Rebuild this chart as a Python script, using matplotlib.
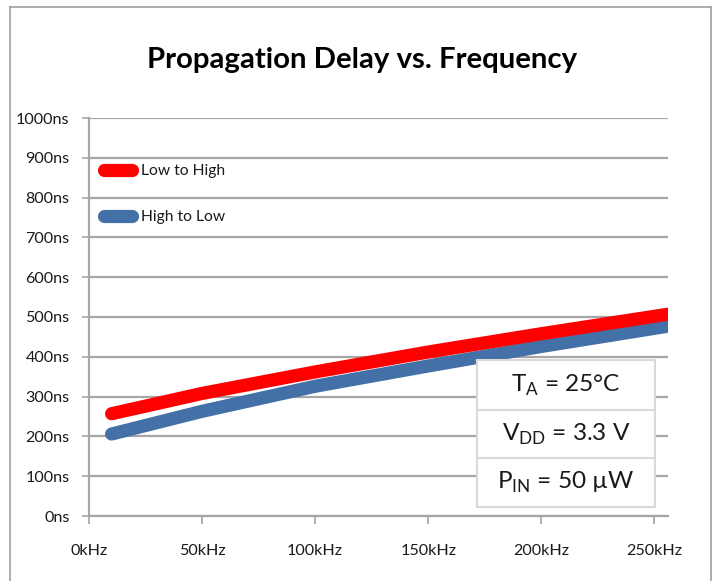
import matplotlib
matplotlib.use("Agg")
import matplotlib.pyplot as plt
from matplotlib.lines import Line2D
from matplotlib.patches import Rectangle

# ---- data ----
freq_khz = [10, 50, 100, 150, 200, 256]
low_to_high = [257, 308, 362, 412, 458, 507]
high_to_low = [206, 263, 326, 377, 426, 477]
series_names = ["Low to High", "High to Low"]
x_ticks = [0, 50, 100, 150, 200, 250]
x_tick_labels = ["0kHz", "50kHz", "100kHz", "150kHz", "200kHz", "250kHz"]
y_ticks = list(range(0, 1001, 100))
y_tick_labels = [f"{v}ns" for v in y_ticks]
title = "Propagation Delay vs. Frequency"
box_rows = [r"T$_\mathregular{A}$ = 25°C", r"V$_\mathregular{DD}$ = 3.3 V", r"P$_\mathregular{IN}$ = 50 µW"]

FONT = "Lato"
plt.rcParams['font.family'] = [FONT, 'DejaVu Sans']
plt.rcParams['mathtext.fontset'] = 'custom'
plt.rcParams['mathtext.rm'] = FONT

W, H = 715, 581
fig = plt.figure(figsize=(W / 100, H / 100), dpi=100)
renderer = fig.canvas.get_renderer()


def fit_size(text, target_px, weight="normal", base=12.0):
    t = fig.text(0, 0, text, fontsize=base, fontweight=weight)
    w = t.get_window_extent(renderer=renderer).width
    t.remove()
    return base * target_px / w


ax = fig.add_axes([89 / W, 1 - 516 / H, (668 - 89) / W, (516 - 118) / H])

grid_c = "#a6a6a6"
tick_fs = fit_size("1000ns", 53)
ax.set_xlim(0, 256)
ax.set_ylim(0, 1000)
ax.set_yticks(y_ticks)
ax.set_yticklabels(y_tick_labels)
ax.set_xticks(x_ticks)
ax.set_xticklabels(x_tick_labels)
ax.yaxis.grid(True, color=grid_c, linewidth=1.6)
ax.set_axisbelow(True)
for s in ["top", "right"]:
    ax.spines[s].set_visible(False)
for s in ["left", "bottom"]:
    ax.spines[s].set_color(grid_c)
    ax.spines[s].set_linewidth(1.6)
ax.tick_params(axis="y", length=5, width=1.2, color=grid_c, pad=9, labelsize=tick_fs, labelcolor="#1a1a1a")
ax.tick_params(axis="x", length=6, width=1.2, color=grid_c, pad=14, labelsize=tick_fs, labelcolor="#1a1a1a")

l1, = ax.plot(freq_khz, low_to_high, color="#ff0000", linewidth=9.5, solid_capstyle="round", zorder=3)
l2, = ax.plot(freq_khz, high_to_low, color="#4470a8", linewidth=9.5, solid_capstyle="round", zorder=2)

leg_fs = fit_size("Low to High", 84)
fs_px = leg_fs * 100 / 72
leg = ax.legend([l1, l2], series_names, loc="center left",
                bbox_to_anchor=((104 - 89) / 579, (516 - 194) / 398),
                frameon=False, borderpad=0, borderaxespad=0,
                handlelength=28 / fs_px, handletextpad=9 / fs_px,
                labelspacing=(50 - fs_px * 1.15) / fs_px, fontsize=leg_fs)
for t in leg.get_texts():
    t.set_color("#1a1a1a")

# text box table
bx0, bx1 = 477, 655
rows_y = [360, 410, 458, 507]
box_fs = fit_size(box_rows[2], 138)
for i, txt in enumerate(box_rows):
    y0, y1 = rows_y[i], rows_y[i + 1]
    r = Rectangle((bx0 / W, 1 - y1 / H), (bx1 - bx0) / W, (y1 - y0) / H,
                  transform=fig.transFigure, facecolor="white", edgecolor="#d9d9d9",
                  linewidth=1.5, zorder=10)
    fig.add_artist(r)
    fig.text((bx0 + bx1) / 2 / W, 1 - (y0 + y1) / 2 / H, txt, ha="center", va="center",
             fontsize=box_fs, color="#1a1a1a", zorder=11)

title_fs = fit_size(title, 429, weight="bold")
fig.text(362 / W, 1 - 60 / H, title, ha="center", va="center", fontsize=title_fs,
         fontweight="bold", color="black")

# outer frame
bc = "#a0a0a0"
fig.add_artist(Line2D([10 / W, 10 / W], [0, 1 - 7 / H], transform=fig.transFigure, color=bc, lw=1.2))
fig.add_artist(Line2D([10 / W, 711 / W], [1 - 7 / H, 1 - 7 / H], transform=fig.transFigure, color=bc, lw=1.2))
fig.add_artist(Line2D([711 / W, 711 / W], [0, 1 - 7 / H], transform=fig.transFigure, color=bc, lw=1.2))

fig.savefig("out.png", dpi=100)
